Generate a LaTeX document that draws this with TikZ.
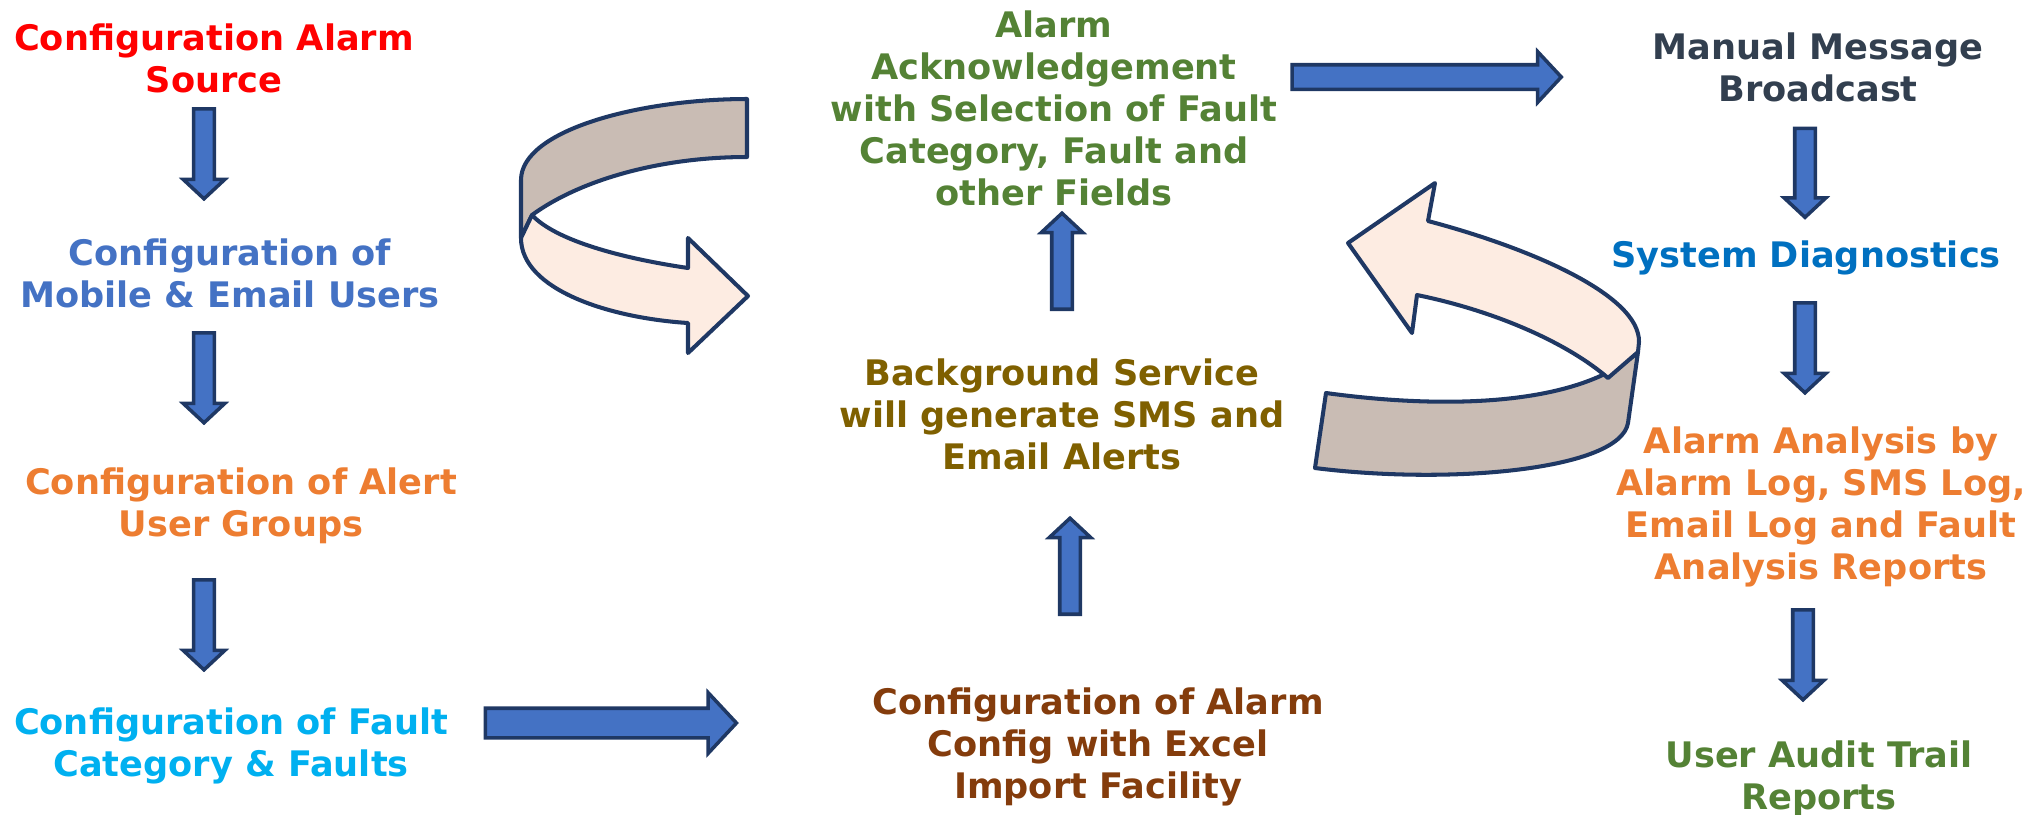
\documentclass[tikz,border=0pt]{standalone}
\usepackage{fontspec}
\setmainfont{DejaVu Sans}
\usetikzlibrary{shapes.arrows}

\definecolor{arrowblue}{HTML}{4472C4}
\definecolor{navy}{HTML}{1F3864}
\definecolor{bandbrown}{HTML}{C9BCB4}
\definecolor{bandpeach}{HTML}{FDECE2}
\definecolor{mobblue}{HTML}{4472C4}
\definecolor{alertor}{HTML}{ED7D31}
\definecolor{faultcy}{HTML}{00B0F0}
\definecolor{ackgr}{HTML}{548235}
\definecolor{svcol}{HTML}{7F6000}
\definecolor{cfgbr}{HTML}{843C0C}
\definecolor{msgdk}{HTML}{323F4F}
\definecolor{diagbl}{HTML}{0070C0}

\begin{document}
\begin{tikzpicture}[x=0.01cm,y=-0.01cm,
    lbl/.style={anchor=north,inner sep=0pt,align=center,
      font=\fontsize{10}{11.95}\selectfont\bfseries},
    blk/.style={single arrow,draw=navy,fill=arrowblue,line width=1pt,
      inner xsep=0pt,inner ysep=0.085cm,single arrow head extend=0.105cm,
      single arrow tip angle=94},
    band/.style={draw=navy,line width=1.15pt,line join=round}]
    \useasboundingbox (0,0) rectangle (2038,814);

    % left column
    \node[lbl,text=red] (src) at (214,23) {Configuration Alarm\\Source};
    \node[lbl,text=mobblue] (usr) at (230,238) {Configuration of\\Mobile \& Email Users};
    \node[lbl,text=alertor] (grp) at (241,467) {Configuration of Alert\\User Groups};
    \node[lbl,text=faultcy] (flt) at (231,707) {Configuration of Fault\\Category \& Faults};

    % middle column
    \node[lbl,text=ackgr] (ack) at (1054,10) {Alarm\\Acknowledgement\\with Selection of Fault\\Category, Fault and\\other Fields};
    \node[lbl,text=svcol] (svc) at (1062,358) {Background Service\\will generate SMS and\\Email Alerts};
    \node[lbl,text=cfgbr] (cfg) at (1098,687) {Configuration of Alarm\\Config with Excel\\Import Facility};

    % right column
    \node[lbl,text=msgdk] (msg) at (1818,32) {Manual Message\\Broadcast};
    \node[lbl,text=diagbl] (diag) at (1806,240) {System Diagnostics};
    \node[lbl,text=alertor] (ana) at (1821,426) {Alarm Analysis by\\Alarm Log, SMS Log,\\Email Log and Fault\\Analysis Reports};
    \node[lbl,text=ackgr] (aud) at (1819,740) {User Audit Trail\\Reports};

    % block arrows
    \node[blk,rotate=-90,minimum height=0.90cm] (d1) at (204,149) {};
    \node[blk,rotate=-90,minimum height=0.90cm] (d2) at (204,373) {};
    \node[blk,rotate=-90,minimum height=0.90cm] (d3) at (204,620) {};
    \node[blk,minimum height=2.51cm,inner ysep=0.13cm,single arrow head extend=0.155cm] (r1) at (604,723) {};
    \node[blk,rotate=90,minimum height=0.96cm] (u1) at (1070,571) {};
    \node[blk,rotate=90,minimum height=0.96cm] (u2) at (1062,266) {};
    \node[blk,minimum height=2.69cm,inner ysep=0.105cm,single arrow head extend=0.13cm] (r2) at (1421,77) {};
    \node[blk,rotate=-90,minimum height=0.89cm] (d4) at (1805,168) {};
    \node[blk,rotate=-90,minimum height=0.90cm] (d5) at (1805,343) {};
    \node[blk,rotate=-90,minimum height=0.90cm] (d6) at (1803,650) {};

    % curved arrow, left
    \draw[band,fill=bandbrown] (747,99) .. controls (640,99) and (521,130) .. (521,180)
      -- (521,238) -- (532,215) .. controls (580,180) and (660,157) .. (747,157) -- cycle;
    \draw[band,fill=bandpeach] (521,238) .. controls (521,290) and (610,318) .. (688,323)
      -- (688,353) -- (748,296) -- (688,238) -- (688,268)
      .. controls (620,258) and (555,240) .. (532,215) -- cycle;

    % curved arrow, right
    \draw[band,fill=bandbrown] (1326,393) .. controls (1450,410) and (1580,405) .. (1638,352)
      -- (1628,423) .. controls (1620,470) and (1450,485) .. (1315,468) -- cycle;
    \draw[band,fill=bandpeach] (1608,378) .. controls (1570,345) and (1500,312) .. (1417,295)
      -- (1412,333) -- (1348,243) -- (1435,183) -- (1428,221)
      .. controls (1530,248) and (1640,295) .. (1639,342) -- (1638,352) -- cycle;
\end{tikzpicture}
\end{document}
